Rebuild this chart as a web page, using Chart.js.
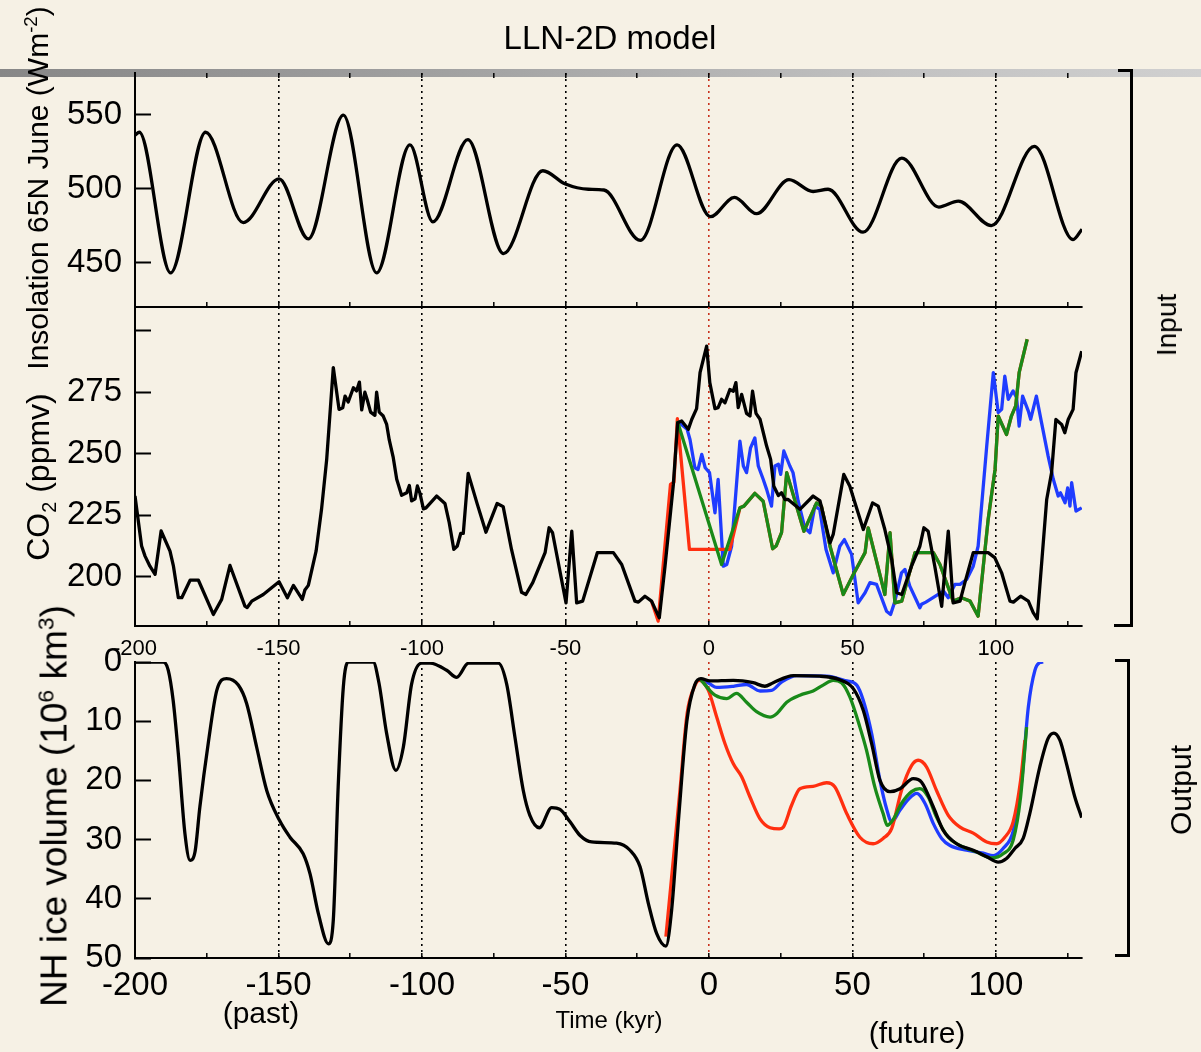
<!DOCTYPE html>
<html lang="en">
<head>
  <meta charset="UTF-8">
  <title>LLN-2D model</title>
  <script src="https://cdn.jsdelivr.net/npm/chart.js"></script>
  <style>
    body { margin: 0; background: #f6f1e5; font-family: "Liberation Sans", Arial, Helvetica, sans-serif; }
    #page { position: relative; width: 1201px; height: 1052px; background: #f6f1e5; overflow: hidden; }
    #page canvas { position: absolute; left: 0; top: 0; }
    .bar { position: absolute; left: 0; top: 69px; width: 1201px; height: 8px;
           background: linear-gradient(to right, #878787, #a3a3a3 40%, #c2c2c2 75%, #d0d0d0); }
    .txt { position: absolute; white-space: nowrap; color: #000; line-height: 1; transform: translate(-50%, -50%); }
    .rot { transform: translate(-50%, -50%) rotate(-90deg); }
    sup, sub { font-size: 0.62em; line-height: 0; }
    .brk { position: absolute; background: #000; }
  </style>
</head>
<body>
<div id="page">
  <div class="bar"></div>
  <canvas id="inso" width="1201" height="1052"></canvas>
  <canvas id="co2" width="1201" height="1052"></canvas>
  <canvas id="ice" width="1201" height="1052"></canvas>

  <!-- titles and labels -->
  <div class="txt" style="left:610px;top:37px;font-size:33px">LLN-2D model</div>
  <div class="txt rot" style="left:38px;top:188px;font-size:30px">Insolation 65N June (Wm<sup>-2</sup>)</div>
  <div class="txt rot" style="left:38px;top:477px;font-size:32px">CO<sub>2</sub> (ppmv)</div>
  <div class="txt rot" style="left:54px;top:806px;font-size:37px">NH ice volume (10<sup>6</sup> km<sup>3</sup>)</div>
  <div class="txt rot" style="left:1167px;top:325px;font-size:28px">Input</div>
  <div class="txt rot" style="left:1181px;top:790px;font-size:30px">Output</div>
  <div class="txt" style="left:261px;top:1013px;font-size:30px">(past)</div>
  <div class="txt" style="left:609px;top:1020px;font-size:24px">Time (kyr)</div>
  <div class="txt" style="left:917px;top:1033px;font-size:30px">(future)</div>

  <!-- Input / Output brackets -->
  <div class="brk" style="left:1130px;top:69px;width:3px;height:558px"></div>
  <div class="brk" style="left:1118px;top:69px;width:15px;height:3px"></div>
  <div class="brk" style="left:1114px;top:624px;width:19px;height:3px"></div>
  <div class="brk" style="left:1127px;top:659px;width:3px;height:298px"></div>
  <div class="brk" style="left:1115px;top:659px;width:15px;height:3px"></div>
  <div class="brk" style="left:1115px;top:954px;width:15px;height:3px"></div>
</div>

<script>
  // axis ranges and tick labels
  const tMin = -200, tMax = 130;
  const timeTicks = [-200, -150, -100, -50, 0, 50, 100];
  const timeMinorTicks = [-175, -125, -75, -25, 25, 75, 125];
  const insoTicks = [450, 500, 550];
  const co2Ticks = [200, 225, 250, 275, 300];
  const co2Labelled = [200, 225, 250, 275];
  const iceTicks = [0, 10, 20, 30, 40, 50];

  // Insolation 65N June (W/m2)
  const insoTime = [-200, -198.5, -187.6, -175.4, -162.3, -149.8, -139.6, -127.4, -115.8, -104.2, -96.2, -84,
    -71.6, -57.9, -50, -42, -36.6, -23.9, -11.1, 0.5, 8.9, 16.6, 27.9, 36.3, 41.5, 53.7, 67.2, 80.1, 86.9,
    98.4, 113.4, 126.9, 130];
  const insoValue = [536, 538, 443, 538, 477, 506.5, 466, 549.5, 443, 529.5, 477.5, 533,
    456, 512, 503, 499.5, 499, 465, 529.5, 481, 494, 483, 506, 498, 499.5, 470.5, 520.5, 487.5, 491.5,
    475, 528.5, 465.5, 472.5];

  // CO2 (ppmv), black curve
  const co2Time = [-200, -197.7, -196.5, -194.8, -193, -190.9, -187.8, -186.6, -184.9, -183.7, -180.8, -177.9,
    -172.7, -169.8, -166.9, -161.7, -160.9, -159.3, -155.3, -149.8, -146.9, -144.8, -141.7, -140.8, -139.6,
    -136.9, -135, -133.2, -130.9, -128.9, -127.6, -126.8, -125.7, -123.9, -122.8, -121.8, -121, -119.9, -119.1,
    -117.9, -116.4, -115.8, -114.9, -113.5, -112.3, -111.4, -110, -108.8, -107.1, -105.3, -104.4, -103.6,
    -102.4, -101.6, -100.7, -99.5, -98.6, -94.9, -92, -90.5, -88.9, -87.7, -86.5, -85.6, -83.9, -80.7, -77.7,
    -73.8, -71.7, -68.8, -65.3, -63.8, -61.4, -57.1, -55.7, -54.5, -49.8, -47.8, -46.1, -44, -38.9, -33.3,
    -30.4, -25.8, -24.6, -22.3, -20, -17.3, -15.3, -12.4, -10.9, -9.5, -7.2, -6, -4.3, -3.1, -0.8, 0.3, 2.1,
    3.2, 4.4, 5.6, 7.3, 8.5, 9.4, 10.2, 11.4, 13.1, 14.3, 15.2, 16.4, 17.8, 20.1, 21.5, 22.6, 24.2, 25.3,
    26.5, 27.6, 31.7, 36.3, 38.7, 42.2, 43.3, 47, 49.1, 50.9, 53.8, 57, 59, 61.3, 63.7, 65.4, 67.2, 70.6,
    73.5, 74.9, 76.4, 78.7, 81.1, 83.4, 85.1, 87.5, 89.2, 92.1, 97.3, 99.6, 102, 104.9, 106.1, 108.6, 111.3,
    113, 114.4, 117.7, 119.4, 120.9, 122.9, 124, 125.2, 126.9, 127.9, 129.9];
  const co2Value = [232.8, 212.5, 208.4, 204.3, 201, 218.6, 210.4, 204.3, 191.5, 191.5, 198.6, 198.6,
    184.7, 190.8, 204.6, 188.1, 187.5, 190.1, 192.8, 198, 191.5, 196.5, 190.8, 194.6, 196.5,
    210.4, 227.4, 247.7, 285, 268, 268.7, 273.4, 271, 276.8, 275.5, 279.1, 267.8, 275, 272,
    266.9, 265.6, 275, 266.9, 265.3, 261.9, 255.6, 248.4, 239.6, 233.1, 234.1, 237.1, 230.8,
    231.7, 236.9, 233.9, 227.6, 228, 232.8, 229.8, 222, 211.1, 212.5, 217.6, 217.6, 242, 229.4, 218.1,
    229.8, 228.5, 211.1, 193.7, 192.8, 197.6, 209.8, 219.9, 217.9, 189.4, 218.5, 189.4, 190.1, 209.8, 209.8,
    205, 190.1, 189.7, 192.1, 190.1, 183.3, 204.3, 237.5, 262.6, 263.3, 259.9, 263.9, 268.3, 282.9, 293.7, 278.9, 268.3,
    268.7, 272.1, 270.7, 276.1, 275.4, 278.9, 268.7, 274.1, 266.4, 265.3, 275.4, 266.4, 264, 253.1, 247.7, 236.8, 233, 234.1,
    231.4, 231.4, 227.4, 232.8, 230.8, 213.8, 217.2, 241.6, 236.8, 230, 219.2, 230, 228.7, 219.2, 207, 193.5, 192.8, 204.3,
    212.4, 219.9, 218.5, 204.3, 188, 218.5, 189.4, 190.1, 197.6, 209.8, 209.8, 207.8, 201.6, 190.1, 189.7, 192.1, 190.1,
    185.4, 182.9, 231.4, 242.3, 263.9, 261.9, 258.5, 263.9, 268, 282.9, 291.7];

  // CO2 scenarios
  const co2RedTime = [-20, -17.7, -13.4, -12.2, -11, -6.8, 7.3, 10.8, 12.2, 16, 18.9, 22.2, 23.4, 25.3, 27.1,
    33.1, 37.5, 39.2, 42.2, 46.8, 50.3, 54.4, 55.5, 61.3, 63.1, 64.8, 67.2, 71.8, 78.2, 80.5, 85.1, 88, 91,
    93.8, 97.3, 99.7, 100.8, 103.7, 105.4, 106.9, 108.1, 110.9];
  const co2RedValue = [190.1, 182, 237.5, 238.4, 264.2, 211.1, 211.1, 228, 228.7, 233.9, 230.7, 211.4, 212.5, 217.9, 242.3,
    218.5, 230, 228.7, 212.4, 192.8, 200.9, 209.8, 219.9, 192.8, 217.9, 189.4, 190.1, 209.8, 209.8, 205, 190.1, 191.5, 190.1,
    184, 223.3, 243.6, 265.3, 257.8, 265.3, 269.4, 282.9, 296.5];
  const co2GreenTime = [-11, 4.4, 10.8, 12.2, 16, 18.9, 22.2, 23.4, 25.3, 27.1,
    33.1, 37.5, 39.2, 42.2, 46.8, 50.3, 54.4, 55.5, 61.3, 63.1, 64.8, 67.2, 71.8, 78.2, 80.5, 85.1, 88, 91,
    93.8, 97.3, 99.7, 100.8, 103.7, 105.4, 106.9, 108.1, 110.9];
  const co2GreenValue = [263.3, 205, 228, 228.7, 233.9, 230.7, 211.4, 212.5, 217.9, 242.3,
    218.5, 230, 228.7, 212.4, 192.8, 200.9, 209.8, 219.9, 192.8, 217.9, 189.4, 190.1, 209.8, 209.8, 205, 190.1, 191.5, 190.1,
    184, 223.3, 243.6, 265.3, 257.8, 265.3, 269.4, 282.9, 296.5];
  const co2BlueTime = [-11, -7.6, -6.6, -4.9, -3.8, -2.5, -1.3, 0.2, 2.1, 3.2, 5, 6.2, 7.9, 10.8, 12, 13.1, 14.5,
    16, 17.2, 18.9, 20.1, 21.8, 23, 24.2, 25, 26.1, 28.2, 29.3, 31.1, 33.4, 35.2, 36.9, 38.6, 40.8, 43.3, 45.6,
    47.2, 49.7, 52, 54.4, 56.1, 58.4, 61.9, 63.3, 64.8, 67.1, 68.3, 70, 73.5, 74.1, 75.6, 81.7, 83.4, 85.7, 87.5,
    89.8, 92.1, 93.8, 96.8, 99.1, 100.8, 102, 103.1, 104.3, 106, 107.2, 108.1, 109.3, 111.3, 112.1, 114.1, 115.9,
    118.2, 120, 121.7, 122.5, 124.1, 125, 125.8, 126.4, 127.9, 129.9];
  const co2BlueValue = [263.3, 259.9, 255.8, 244.3, 243.6, 249.7, 244.3, 242.3, 226, 239.6, 204.3, 205, 212.4, 255.1, 245, 242.3, 252.4,
    256.4, 245, 239.6, 235.5, 228.7, 245, 245.7, 241.6, 251.1, 245, 242.3, 230.7, 219.9, 217.9, 228.7, 227.4, 211.1, 201.6, 212.4,
    215.1, 209.1, 189.4, 193.5, 197.6, 196.9, 186, 184.7, 190.1, 201.6, 203, 196.2, 187.4, 188.8, 189.7, 194.2, 191.5, 196.9, 196.9,
    198.9, 204.3, 212.4, 253.1, 282.9, 266.7, 268, 281.5, 272.1, 275.5, 272.8, 261.2, 273.4, 267.3, 264, 273.4, 262.6,
    249, 239.6, 232.8, 234.1, 230.1, 236.1, 228.7, 238.2, 226.7, 228];

  // NH ice volume (10^6 km3), black curve
  const iceTime = [-200, -190.1, -188.4, -186.7, -184.9, -182.6, -180.8, -179.1, -177.4, -174.5, -171.5, -168.1,
    -164, -161.1, -157.6, -154.1, -149.7, -146, -141.4, -139, -136.1, -132.6, -130.9, -129.2, -127.4, -125.7,
    -117, -115, -112.3, -109.1, -106.5, -103.6, -100.1, -97.2, -91.4, -87.9, -83.8, -73.4, -70.5, -67.6, -64.7,
    -62.4, -59.1, -54.8, -51.9, -48.4, -44.9, -40.9, -32.2, -27.5, -24, -21.1, -18.2, -15, -13, -10.5, -7.7,
    -4.9, -2.8, 0.3, 8.5, 15.4, 19.5, 22.4, 29.4, 38.7, 45.6, 50.3, 53.8, 56.7, 59.6, 63.1, 66.6, 71.2, 74.1,
    78.2, 81.6, 86.3, 92.1, 96.8, 100.8, 103.7, 106.6, 109.5, 111.8, 115.3, 118.2, 120.2, 122.3, 124.6, 127.5, 129.9];
  const iceValue = [0, 0, 1.4, 6.5, 15.5, 29, 33.5, 32.1, 24.5, 13.8, 4.8, 2.8,
    3.9, 7, 14.4, 21.7, 26.7, 29.6, 32.4, 35.8, 42.5, 47.6, 43.6, 21.1, 4.2, 0,
    0, 3.5, 12.1, 18.3, 14.4, 3.7, 0.2, 0.2, 1.4, 2.6, 0.2, 0.2, 3.7, 12.7, 21.7,
    25.9, 28, 24.6, 24.9, 27, 29.3, 30.4, 30.6, 31.8, 34.6, 40.8, 45.9, 48, 41.9, 26, 10,
    3.8, 2.8, 3.2, 3.1, 3.5, 4.1, 3.5, 2.3, 2.4, 3, 4.5, 8.2, 13.8, 20, 21.9, 21.4, 19.7, 20.3,
    24.5, 28.4, 30.7, 31.8, 32.9, 33.8, 33.2, 31.5, 29.8, 25.6, 17.7, 12.9, 12, 13.2, 17.2, 22.8, 26.3];

  // ice volume scenarios
  const iceRedTime = [-15, -10.1, -7.6, -4.9, -3.4, -0.2, 2.7, 5.6, 8.5, 11.4, 14.3, 17.8, 21.3, 24.5, 25.9, 28.8,
    31.7, 36.3, 41, 43.9, 48, 52.6, 57.2, 60.7, 63.7, 67.1, 70.6, 72.9, 75.8, 79.3, 83.4, 87.5, 92.1, 96.8,
    100.2, 103.1, 106, 108.6, 110.1];
  const iceRedValue = [46.4, 21.7, 8.7, 4, 3.1, 4.8, 9.3, 13.8, 17.2, 19.4, 22.8, 26.5, 28, 28.2, 27.9, 24.2,
    21.4, 21, 20.4, 21.1, 25.6, 29.6, 30.7, 29.8, 28.1, 21.7, 17.5, 16.6, 17.7, 21.7, 25.9, 27.9, 28.9, 30.4,
    30.7, 29.6, 27, 20, 13.2];
  const iceGreenTime = [-3.1, 0.3, 2.1, 6.2, 9.6, 13.1, 16.6, 21.3, 23.7, 27.1, 31.7, 36.3, 39.8, 43.3, 46.2, 49.1,
    52.6, 54.9, 57.8, 60.7, 62.1, 64.1, 67.1, 70.6, 73.5, 76.4, 79.3, 83.4, 87.5, 93.3, 98.5, 102.5, 106, 108.6, 110.7];
  const iceGreenValue = [2.8, 4.8, 5.6, 6.2, 5.3, 6.8, 8.4, 9.3, 8.7, 6.8, 5.6, 4.9, 3.9, 3.1, 3.5, 5.9,
    11, 14.9, 21.1, 25.6, 27.6, 26.7, 23.9, 21.9, 21.4, 22.8, 26.2, 29.6, 31, 32.1, 33.1, 32.4, 30.1, 22.8, 11];
  const iceBlueTime = [-3.1, 0.3, 2.7, 8.5, 13.1, 17.8, 21.8, 25.3, 30.6, 41, 48, 51.5, 53.8, 56.7, 59.6, 61.9,
    63.7, 66.6, 69.5, 72.4, 75.3, 78.2, 81.1, 84, 89.8, 95.6, 99.1, 102.5, 106, 109, 111.3, 113.6, 115.3, 116.5];
  const iceBlueValue = [2.8, 3.7, 4.3, 4.1, 3.8, 4.9, 4.8, 3.4, 2.3, 2.4, 3.2, 3.9, 6.5, 12.1, 20, 24.8,
    27, 25, 23.2, 22.2, 23.9, 27.3, 29.8, 31, 31.8, 32.3, 32.7, 31.5, 28.6, 20, 7.6, 1.4, 0.1, 0];

  const BLACK = '#000000', BLUE = '#1f3cff', RED = '#ff2f10', GREEN = '#198a19';

  Chart.defaults.font.family = '"Liberation Sans", Arial, Helvetica, sans-serif';
  Chart.defaults.color = '#000';

  const pts = (t, v) => t.map((x, i) => ({ x, y: v[i] }));

  function series(label, t, v, color, smooth) {
    return {
      label, data: pts(t, v), borderColor: color, borderWidth: 3.3, pointRadius: 0, fill: false,
      tension: smooth ? 0.4 : 0, cubicInterpolationMode: smooth ? 'monotone' : 'default',
      borderJoinStyle: 'round', xAxisID: 'x', yAxisID: 'y'
    };
  }

  // dotted vertical lines at the labelled times, red one at 0
  function gridColor(ctx) {
    const v = ctx.tick ? ctx.tick.value : null;
    if (v === 0) return '#c8321e';
    if (v === tMin || !timeTicks.includes(v)) return 'rgba(0,0,0,0)';
    return '#000';
  }

  // labels are clipped to the axis box, so the boxes get real sizes
  function timeAxis(position, o) {
    return {
      type: 'linear', axis: 'x', position, min: tMin, max: tMax,
      afterBuildTicks: s => { s.ticks = timeTicks.concat(timeMinorTicks).sort((a, b) => a - b).map(v => ({ value: v })); },
      afterFit: s => { s.height = o.h || 0; },
      grid: { display: true, drawOnChartArea: o.grid, color: gridColor, lineWidth: 1.6,
              drawTicks: o.marks, tickLength: -5, tickColor: '#000', tickWidth: 1.5 },
      border: { display: o.border, color: '#000', width: 2, dash: [2, 4] },
      ticks: o.size ? {
        display: true, autoSkip: false, maxRotation: 0, padding: o.pad, font: { size: o.size },
        callback: v => timeTicks.includes(v) ? String(v) : ''
      } : { display: false }
    };
  }

  function valueAxis(min, max, tickList, labelled, extra) {
    return Object.assign({
      type: 'linear', position: 'left', min, max,
      afterBuildTicks: s => { s.ticks = tickList.map(v => ({ value: v })); },
      afterFit: s => { s.width = 135; },
      grid: { drawOnChartArea: false, drawTicks: true, tickLength: -16, tickColor: '#000', tickWidth: 2 },
      border: { display: true, color: '#000', width: 2 },
      ticks: { font: { size: 33 }, padding: 29, autoSkip: false, callback: v => labelled.includes(v) ? String(v) : '' }
    }, extra || {});
  }

  function panel(id, pad, datasets, scales) {
    return new Chart(document.getElementById(id), {
      type: 'line',
      data: { datasets },
      options: {
        responsive: false, animation: false, devicePixelRatio: 1,
        layout: { padding: { left: 0, right: 1201 - 1082, top: pad.top, bottom: pad.bottom } },
        plugins: { legend: { display: false }, tooltip: { enabled: false } },
        elements: { point: { radius: 0 } },
        scales
      }
    });
  }

  // Input: insolation (plot area 73..307)
  panel('inso', { top: 73, bottom: 1052 - 307 },
    [series('Insolation 65N June', insoTime, insoValue, BLACK, true)],
    {
      x: timeAxis('bottom', { grid: true, marks: true, border: true }),
      xt: timeAxis('top', { grid: false, marks: true, border: false }),
      y: valueAxis(420, 578, insoTicks, insoTicks)
    });

  // Input: CO2 (plot area 307..626)
  panel('co2', { top: 307, bottom: 1052 - 626 },
    [
      series('CO2 reference', co2Time, co2Value, BLACK, false),
      series('CO2 scenario green', co2GreenTime, co2GreenValue, GREEN, false),
      series('CO2 scenario red', co2RedTime, co2RedValue, RED, false),
      series('CO2 scenario blue', co2BlueTime, co2BlueValue, BLUE, false)
    ],
    {
      x: timeAxis('bottom', { grid: true, marks: true, border: true }),
      y: valueAxis(180, 309.6, co2Ticks, co2Labelled)
    });

  // Output: ice volume (plot area 662..958)
  panel('ice', { top: 662 - 42, bottom: 1052 - 958 - 60 },
    [
      series('Ice reference', iceTime, iceValue, BLACK, true),
      series('Ice scenario green', iceGreenTime, iceGreenValue, GREEN, true),
      series('Ice scenario red', iceRedTime, iceRedValue, RED, true),
      series('Ice scenario blue', iceBlueTime, iceBlueValue, BLUE, true)
    ],
    {
      x: timeAxis('bottom', { grid: true, marks: true, border: true, size: 33, pad: 13, h: 60 }),
      xt: timeAxis('top', { grid: false, marks: false, border: false, size: 22, pad: 0, h: 42 }),
      y: valueAxis(0, 50, iceTicks, iceTicks, { reverse: true })
    });
</script>
</body>
</html>
